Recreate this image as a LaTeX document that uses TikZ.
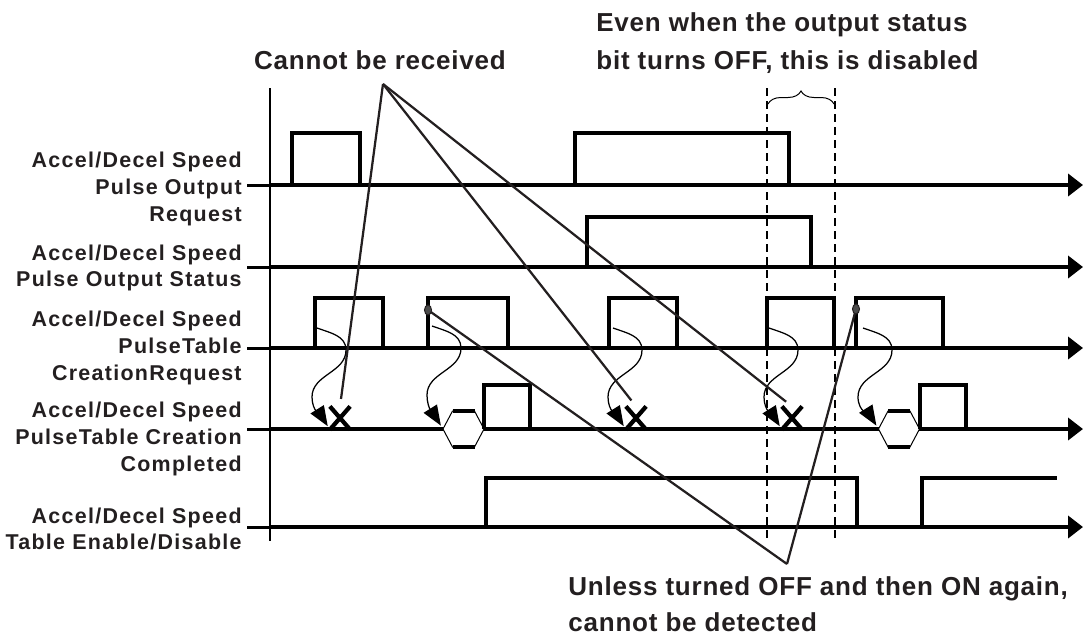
\documentclass[tikz,border=0pt]{standalone}
\usepackage{fontspec}
\setmainfont{Liberation Sans}
\newfontfamily\lblfont{Liberation Sans}[LetterSpace=6]
\newfontfamily\notefont{Liberation Sans}[LetterSpace=3]
\usetikzlibrary{arrows.meta,shapes.misc,shapes.geometric,decorations.pathreplacing}
\definecolor{inkgray}{RGB}{35,31,32}
\definecolor{dotgray}{RGB}{75,75,75}

\begin{document}
\begin{tikzpicture}[x=0.2mm,y=0.2mm,
  sig/.style={line width=0.8mm},
  stub/.style={line width=0.6mm},
  timeline/.style={line width=0.8mm,-{Triangle[length=3mm,width=4.4mm]}},
  pointer/.style={line width=0.45mm,inkgray},
  wiggle/.style={line width=0.25mm,shorten >=0.8mm,-{Triangle[length=4mm,width=3.1mm]}},
  guide/.style={line width=0.4mm,dash pattern=on 1.6mm off 1mm},
  xmark/.style={cross out,draw,line width=0.85mm,minimum width=3.2mm,minimum height=3.8mm,inner sep=0pt},
  dotmark/.style={ellipse,draw=inkgray,fill=dotgray,line width=0.2mm,minimum width=1.4mm,minimum height=2mm,inner sep=0pt},
  lbl/.style={font=\lblfont\bfseries\fontsize{12.2}{15.2}\selectfont,text=inkgray,align=right,anchor=east,inner sep=0pt},
  note/.style={font=\notefont\bfseries\fontsize{14.8}{21.6}\selectfont,text=inkgray,align=left,inner sep=0pt}]

\useasboundingbox (0,0) rectangle (1091,-637);

% Time axis
\draw[line width=0.4mm] (270,-88) -- (270,-541);

% Signal base lines
\foreach \y in {185,267,348,429,527} {
    \draw[stub] (247,-\y) -- (270,-\y);
    \draw[timeline] (270,-\y) -- (1083,-\y);
}

% Labels
\node[lbl] (lreq) at (242,-189) {Accel/Decel Speed\\Pulse Output\\Request};
\node[lbl] (lstat) at (242,-268) {Accel/Decel Speed\\Pulse Output Status};
\node[lbl] (ltreq) at (242,-348) {Accel/Decel Speed\\PulseTable\\CreationRequest};
\node[lbl] (ldone) at (242,-439) {Accel/Decel Speed\\PulseTable Creation\\Completed};
\node[lbl] (lenab) at (242,-529) {Accel/Decel Speed\\Table Enable/Disable};

% Pulse output request
\foreach \a/\b in {292/360,575/789}
    \draw[sig] (\a,-185) |- (\b,-133) -- (\b,-185);

% Pulse output status
\draw[sig] (587,-267) |- (811,-217) -- (811,-267);

% Table creation request
\foreach \a/\b in {315/383,428/508,609/677,767/834,856/943}
    \draw[sig] (\a,-348) |- (\b,-298) -- (\b,-348);

% Table creation completed (hexagon + pulse)
\foreach \c/\b in {463.5/530,899/966} {
    \draw[line width=0.2mm,fill=white] ({\c-20.5},-429) -- ({\c-11},-411) -- ({\c+11},-411)
        -- ({\c+20.5},-429) -- ({\c+11},-447) -- ({\c-11},-447) -- cycle;
    \draw[sig] ({\c-11},-411) -- ({\c+11},-411);
    \draw[sig] ({\c-11},-447) -- ({\c+11},-447);
    \draw[sig] ({\c+20.5},-429) |- (\b,-385) -- (\b,-429);
}
\coordinate (h1) at (443,-429);
\coordinate (h2) at (878.5,-429);

% Table enable/disable
\draw[sig] (486,-527) |- (857,-478) |- (922,-527) |- (1057,-478);

% Disabled window
\draw[guide] (767,-88) -- (767,-542);
\draw[guide] (835,-88) -- (835,-542);
\draw[line width=0.2mm,decorate,decoration={brace,amplitude=2.6mm}] (768,-104) -- (834,-104);

% Missed requests
\node[xmark] (x1) at (340,-418) {};
\node[xmark] (x2) at (636,-418) {};
\node[xmark] (x3) at (792,-418) {};

% Request -> completion
\coordinate (w1) at (317,-328);
\coordinate (w2) at (432,-326);
\coordinate (w3) at (613,-328);
\coordinate (w4) at (769,-328);
\coordinate (w5) at (863,-328);
\foreach \s/\t in {w1/x1.south west,w2/h1,w3/x2.south west,w4/x3.south west,w5/h2}
    \draw[wiggle] (\s) to[out=-20,in=90] ++(29,-22) to[out=-90,in=90] ++(-34,-47) to[out=-90,in=122] (\t);

% Notes
\node[note,anchor=base] (recv) at (380,-69) {Cannot be received};
\node[note,anchor=north west] (offnote) at (596,-12) {Even when the output status\\bit turns OFF, this is disabled};
\node[note,anchor=north west,font=\notefont\bfseries\fontsize{14.8}{20.6}\selectfont] (detnote) at (568,-576) {Unless turned OFF and then ON again,\\cannot be detected};

\coordinate (recvtip) at (383,-84);
\coordinate (dettip) at (787,-564);
\coordinate (d1) at (428,-310);
\coordinate (d2) at (856,-309);

\foreach \m in {x1,x2,x3}
    \draw[pointer,shorten >=1.5mm] (recvtip) -- (\m.north);
\draw[pointer] (dettip) -- (d1);
\draw[pointer] (dettip) -- (d2);

\node[dotmark] (dot1) at (d1) {};
\node[dotmark] (dot2) at (d2) {};

\end{tikzpicture}
\end{document}
